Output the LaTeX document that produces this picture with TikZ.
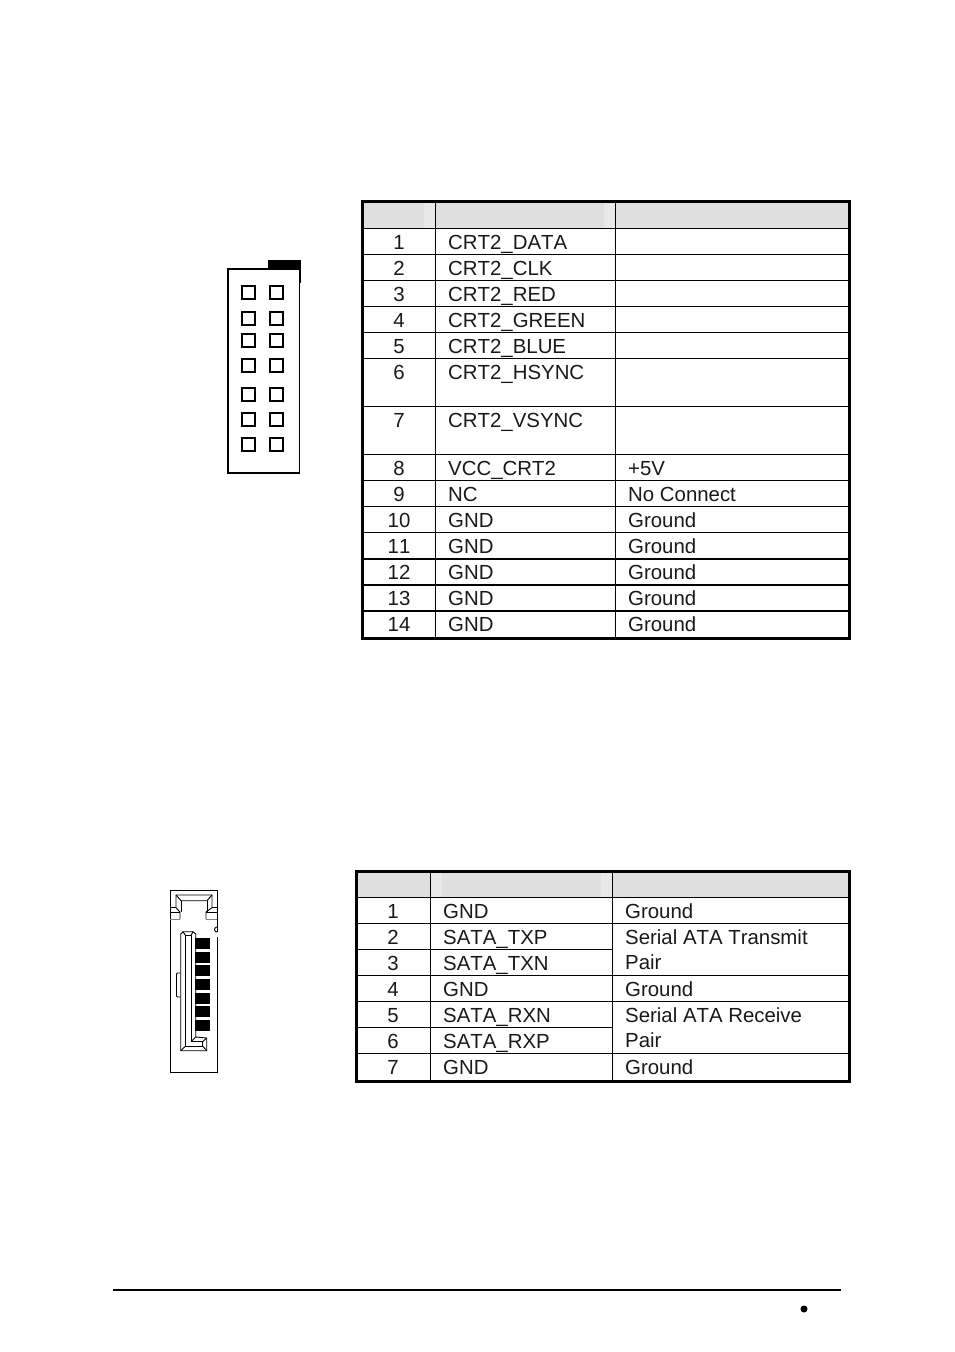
\documentclass[tikz,border=0pt]{standalone}
\usepackage{fontspec}
\setmainfont[Kerning=Off]{Liberation Sans}
\tikzset{
  cell/.style={font=\fontsize{20.4}{22}\selectfont, inner sep=0pt, text=black!90},
  cellnum/.style={cell, anchor=base},
  celltxt/.style={cell, anchor=base west},
  grid/.style={line width=1pt, xshift=-0.5pt, yshift=0.2pt},
  gridheavy/.style={line width=2pt, xshift=-0.5pt, yshift=0.2pt},
  frame/.style={line width=3pt},
  pin/.style={draw, line width=2pt, minimum size=13pt, inner sep=0pt, xshift=-0.5pt},
  sata/.style={line width=0.9pt},
  satagray/.style={line width=0.9pt, draw=black!50},
  satapin/.style={fill=black, minimum width=15pt, minimum height=11pt, inner sep=0pt, xshift=-0.5pt},
}
\definecolor{headgray}{gray}{0.875}
\definecolor{headlight}{gray}{0.91}
\begin{document}
\begin{tikzpicture}[x=1pt,y=-1pt,line cap=butt,line join=miter]
\useasboundingbox (0,0) rectangle (954,1352);
% first table
\fill [headgray] (363,201) rectangle (849,229);
\fill [headlight] (424,203) rectangle (435,229);
\fill [headlight] (604,203) rectangle (615,229);
\foreach \y in {229,255,281,307,333,359,407,455,481,507,533}
  \draw [grid] (363,\y)--(849,\y);
\foreach \y in {559,585,611}
  \draw [gridheavy] (363,\y)--(849,\y);
\foreach \x in {436,616}
  \draw [grid] (\x,201)--(\x,638);
\draw [frame] (362.5,201.5) rectangle (849,638);
\foreach \n/\name/\base in {1/CRT2\_DATA/249,2/CRT2\_CLK/275,3/CRT2\_RED/301,4/CRT2\_GREEN/327,5/CRT2\_BLUE/353,6/CRT2\_HSYNC/379,7/CRT2\_VSYNC/427,8/VCC\_CRT2/475,9/NC/501,10/GND/527,11/GND/553,12/GND/579,13/GND/605,14/GND/631}{
  \node [cellnum] (crtnum\n) at (399,\base) {\n};
  \node [celltxt] (crtname\n) at (448,\base) {\name};
}
\foreach \n/\desc/\base in {8/+5V/475,9/No Connect/501,10/Ground/527,11/Ground/553,12/Ground/579,13/Ground/605,14/Ground/631}
  \node [celltxt] (crtdesc\n) at (628,\base) {\desc};
% header connector
\draw [line width=1.5pt, xshift=-0.5pt] (228.5,269) rectangle (300,473);
\fill (268,260) rectangle (301,269);
\draw [line width=2pt] (300,260)--(300,283);
\foreach \y [count=\i] in {292.5,318.5,340,365.5,394,419,444}{
  \node [pin] (hdrleft\i) at (249,\y) {};
}
\foreach \y/\x [count=\i] in {292.5/276.5,318.5/276.5,340/276.5,365.5/276.5,394/277,419/277,444/277}{
  \node [pin] (hdrright\i) at (\x,\y) {};
}
% second table
\fill [headgray] (357,871) rectangle (849,897);
\fill [headlight] (431,873) rectangle (442,897);
\fill [headlight] (601,873) rectangle (612,897);
\foreach \y in {897.5,923.5,975.5,1001.5,1053.5}
  \draw [grid] (357,\y)--(849,\y);
\foreach \y in {949.5,1027.5}
  \draw [grid] (357,\y)--(613,\y);
\foreach \x in {431,613}
  \draw [grid] (\x,871)--(\x,1081);
\draw [frame] (356.5,871.3) rectangle (849,1081);
\foreach \n/\name/\base in {1/GND/918,2/SATA\_TXP/944,3/SATA\_TXN/970,4/GND/996,5/SATA\_RXN/1022,6/SATA\_RXP/1048,7/GND/1074}{
  \node [cellnum] (satanum\n) at (393,\base) {\n};
  \node [celltxt] (sataname\n) at (443,\base) {\name};
}
\foreach \n/\desc/\base in {1/Ground/918,2/Serial ATA Transmit/944,3/Pair/969,4/Ground/996,5/Serial ATA Receive/1022,6/Pair/1047,7/Ground/1074}
  \node [celltxt] (satadesc\n) at (625,\base) {\desc};
% sata connector
\draw [sata] (217,932)--(217,890)--(170,890)--(170,1072)--(217,1072)--(217,937);
\draw [sata] (217,932) arc (90:270:2.5);
% top key
\draw [sata] (180,919)--(180,912)--(176,907.7)--(176,895)--(212,895)--(212,907.7)--(206,912)--(206,919);
\draw [sata] (176,895)--(181,900.7)--(207,900.7)--(212,895);
\draw [sata] (181,900.7)--(181,912);
\draw [sata] (207,900.7)--(207,912);
\draw [sata] (170,907.7)--(176,907.7);
\draw [sata] (212,907.7)--(217,907.7);
\draw [sata] (170,912)--(180,912);
\draw [sata] (206,912)--(217,912);
\draw [satagray] (170,919)--(180,919);
\draw [satagray] (206,919)--(217,919);
% L shaped slot
\draw [sata] (180.7,934)--(183,931.7)--(193,931.7)--(195.7,934)--(195.7,1037)--(206.7,1038)--(206.7,1050.7)--(180.7,1050.7)--cycle;
\draw [sata] (185.7,935.7)--(191,935.7)--(191,1041.7)--(202.7,1041.7)--(202.7,1046)--(185.7,1046)--cycle;
\draw [sata] (183,931.7)--(185.7,935.7);
\draw [sata] (193,931.7)--(191,935.7);
\draw [sata] (195.7,1037)--(191,1041.7);
\draw [sata] (206.7,1038)--(202.7,1041.7);
\draw [sata] (206.7,1050.7)--(202.7,1046);
\draw [sata] (180.7,1050.7)--(185.7,1046);
\draw [sata, rounded corners=1pt] (180.7,973)--(176.5,973)--(176.5,997)--(180.7,997);
\foreach \y [count=\i] in {943.5,957.5,970.5,984.5,998.5,1011.5,1025.5}
  \node [satapin] (satapin\i) at (202.5,\y) {};
% page footer
\draw [line width=2pt] (113,1290)--(841,1290);
\node [circle, fill=black, inner sep=0pt, minimum size=7pt] (footdot) at (804,1309) {};
\end{tikzpicture}
\end{document}
